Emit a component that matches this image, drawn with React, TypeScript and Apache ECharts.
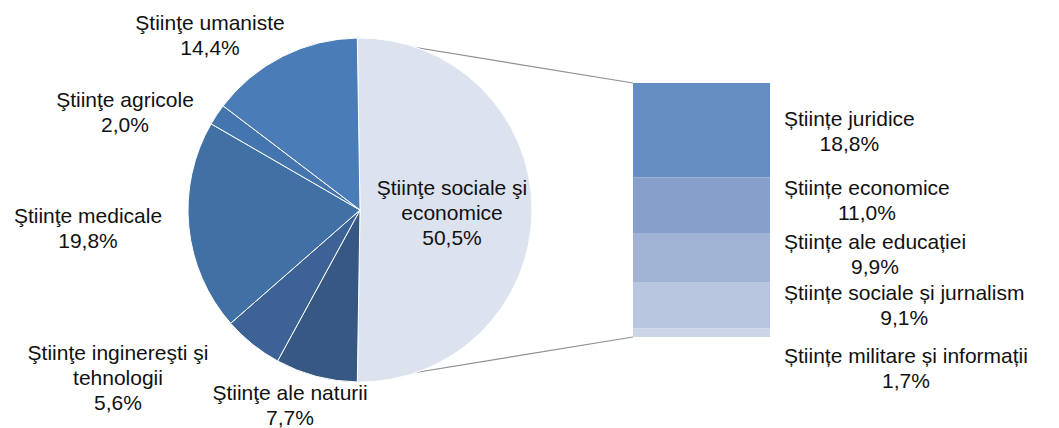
import React, { useEffect, useRef } from "react";
import * as echarts from "echarts";

// Pie categories (cedilla spelling as in the reference)
const pieNames = [
  "Ştiinţe sociale şi\neconomice",
  "Ştiinţe ale naturii",
  "Ştiinţe inginereşti şi\ntehnologii",
  "Ştiinţe medicale",
  "Ştiinţe agricole",
  "Ştiinţe umaniste",
];
const pieValues = [50.5, 7.7, 5.6, 19.8, 2.0, 14.4];
const pieColors = ["#dce2ee", "#365883", "#3d6296", "#4170a5", "#4575ae", "#4a7cb8"];

// Breakdown of the first slice
const barNames = [
  "Științe juridice",
  "Științe economice",
  "Științe ale educației",
  "Științe sociale și jurnalism",
  "Științe militare și informații",
];
const barValues = [18.8, 11.0, 9.9, 9.1, 1.7];
const barColors = ["#668dc2", "#87a0cb", "#a1b3d5", "#b9c6e0", "#ccd5e8"];

// layout constants
const CX = 360;
const CY = 210;
const R = 172;
const START = 90.9;
const GRID = { left: 633, top: 83, width: 137, height: 254 };
const pieLabelPos: [number, number][] = [
  [452, 212],
  [290, 405],
  [118, 377],
  [88, 228],
  [125, 112],
  [210, 35],
];
const barLabelOffsets: [number, number][] = [
  [0, 1],
  [0, -5],
  [0, -4],
  [0, -1],
  [0, 35],
];

const fmt = (v: number) => v.toFixed(1).replace(".", ",") + "%";
const FONT = "'Liberation Sans', Arial, sans-serif";
const FS = 21;

export default function App() {
  const ref = useRef<HTMLDivElement>(null);
  useEffect(() => {
    if (!ref.current) return;
    const chart = echarts.init(ref.current, null, { renderer: "svg" });
    const total = pieValues.reduce((a, b) => a + b, 0);
    const a0 = ((90 - START) * Math.PI) / 180; // clockwise from top
    const a1 = a0 + (pieValues[0] / total) * 2 * Math.PI;
    const p0 = [CX + R * Math.sin(a0), CY - R * Math.cos(a0)];
    const p1 = [CX + R * Math.sin(a1), CY - R * Math.cos(a1)];

    chart.setOption({
      animation: false,
      textStyle: { fontFamily: FONT },
      grid: { ...GRID, containLabel: false },
      xAxis: { type: "category", data: ["x"], show: false },
      yAxis: { type: "value", min: 0, max: 50.5, inverse: true, show: false },
      graphic: [
        {
          type: "line",
          shape: { x1: p0[0], y1: p0[1], x2: GRID.left, y2: GRID.top },
          style: { stroke: "#909090", lineWidth: 1.2 },
          z: 0,
        },
        {
          type: "line",
          shape: { x1: p1[0], y1: p1[1], x2: GRID.left, y2: GRID.top + GRID.height },
          style: { stroke: "#909090", lineWidth: 1.2 },
          z: 0,
        },
      ],
      series: [
        {
          type: "pie",
          center: [CX, CY],
          radius: R,
          startAngle: START,
          clockwise: true,
          z: 3,
          itemStyle: { borderColor: "#ffffff", borderWidth: 1 },
          label: {
            show: true,
            position: "outside",
            formatter: (p: any) => p.name + "\n" + fmt(p.value),
            fontSize: FS,
            lineHeight: 25,
            color: "#111",
            fontFamily: FONT,
            align: "center",
            overflow: "none",
            width: 400,
          },
          labelLine: { show: false },
          labelLayout: (params: any) => {
            const pos = pieLabelPos[params.dataIndex];
            return { x: pos[0], y: pos[1], align: "center", verticalAlign: "middle" };
          },
          data: pieNames.map((n, i) => ({
            name: n,
            value: pieValues[i],
            itemStyle: { color: pieColors[i] },
          })),
        },
        ...barNames.map((n, i) => ({
          type: "bar",
          name: n,
          stack: "s",
          barWidth: "100%",
          itemStyle: { color: barColors[i] },
          label: {
            show: true,
            position: "right",
            distance: 14,
            offset: barLabelOffsets[i],
            formatter: () => `{a|${n}}\n{a|${fmt(barValues[i])}}`,
            rich: {
              a: {
                align: "center",
                fontSize: FS,
                lineHeight: 25,
                color: "#111",
                fontFamily: FONT,
              },
            },
          },
          data: [barValues[i]],
        })),
      ],
    });
    return () => chart.dispose();
  }, []);
  return (
    <div
      ref={ref}
      style={{ position: "fixed", left: 0, top: 0, width: 1059, height: 428, background: "#fff" }}
    />
  );
}
